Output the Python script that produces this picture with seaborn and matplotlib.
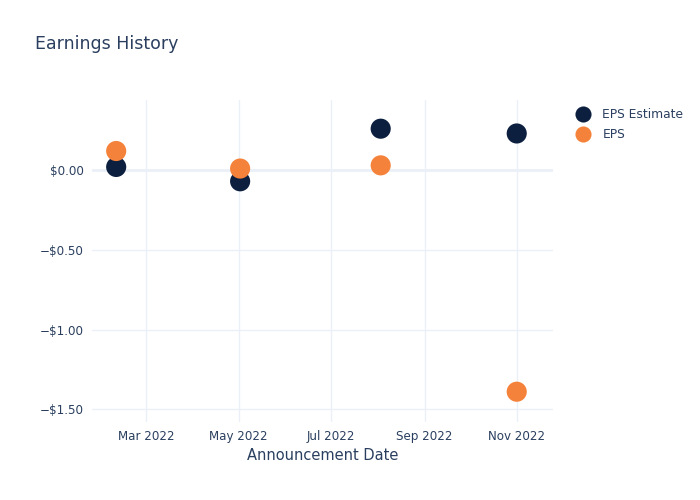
import matplotlib
matplotlib.use("Agg")
import matplotlib.pyplot as plt
import matplotlib.dates as mdates
import matplotlib.ticker as mticker
import seaborn as sns
import pandas as pd

dates = ["2022-02-09", "2022-05-02", "2022-08-03", "2022-11-01"]
eps_estimate = [0.02, -0.07, 0.26, 0.23]
eps_actual = [0.12, 0.01, 0.03, -1.39]
series_names = ["EPS Estimate", "EPS"]
colors = ["#0c1f3f", "#f5823a"]

df = pd.concat([
    pd.DataFrame({"date": pd.to_datetime(dates), "value": eps_estimate, "series": series_names[0]}),
    pd.DataFrame({"date": pd.to_datetime(dates), "value": eps_actual, "series": series_names[1]}),
])

sns.set_theme(style="white")
plt.rcParams["font.family"] = ["DejaVu Sans"]
text_color = "#2a3f5f"
grid_color = "#ebf0f8"

fig = plt.figure(figsize=(7, 5), dpi=100)
ax = fig.add_axes([92/700, 1 - 422/500, (553-92)/700, (422-100)/500])

sns.scatterplot(data=df, x="date", y="value", hue="series", hue_order=series_names,
                palette=colors, s=210, edgecolor="none", ax=ax, zorder=3, legend=True)

ax.set_xlim(pd.Timestamp("2022-01-24"), pd.Timestamp("2022-11-25"))
ax.set_ylim(-1.58, 0.44)

ax.xaxis.set_major_locator(mdates.MonthLocator(bymonth=[3, 5, 7, 9, 11]))
ax.xaxis.set_major_formatter(mdates.DateFormatter("%b %Y"))
ax.set_yticks([0, -0.5, -1.0, -1.5])
ax.yaxis.set_major_formatter(mticker.FuncFormatter(lambda v, p: ("\u2212$%.2f" % abs(v)) if v < 0 else "$%.2f" % v))

ax.grid(True, color=grid_color, linewidth=1)
ax.axhline(0, color=grid_color, linewidth=2, zorder=1)
for s in ax.spines.values():
    s.set_visible(False)
ax.tick_params(axis="both", length=0, labelsize=8.6, labelcolor=text_color, pad=6)

ax.set_xlabel("Announcement Date", fontsize=10.5, color=text_color, labelpad=3)
ax.set_ylabel("")

fig.text(35/700, 1 - 44/500, "Earnings History", fontsize=12.5, color=text_color, va="center", ha="left")

leg = ax.legend(loc="upper left", bbox_to_anchor=(573/700, 1 - 108/500), bbox_transform=fig.transFigure,
                frameon=False, fontsize=8.8, handletextpad=0.8, handlelength=1.6,
                labelspacing=0.6, markerscale=0.8, borderaxespad=0, borderpad=0)
for t in leg.get_texts():
    t.set_color(text_color)

fig.savefig("out.png", dpi=100)
